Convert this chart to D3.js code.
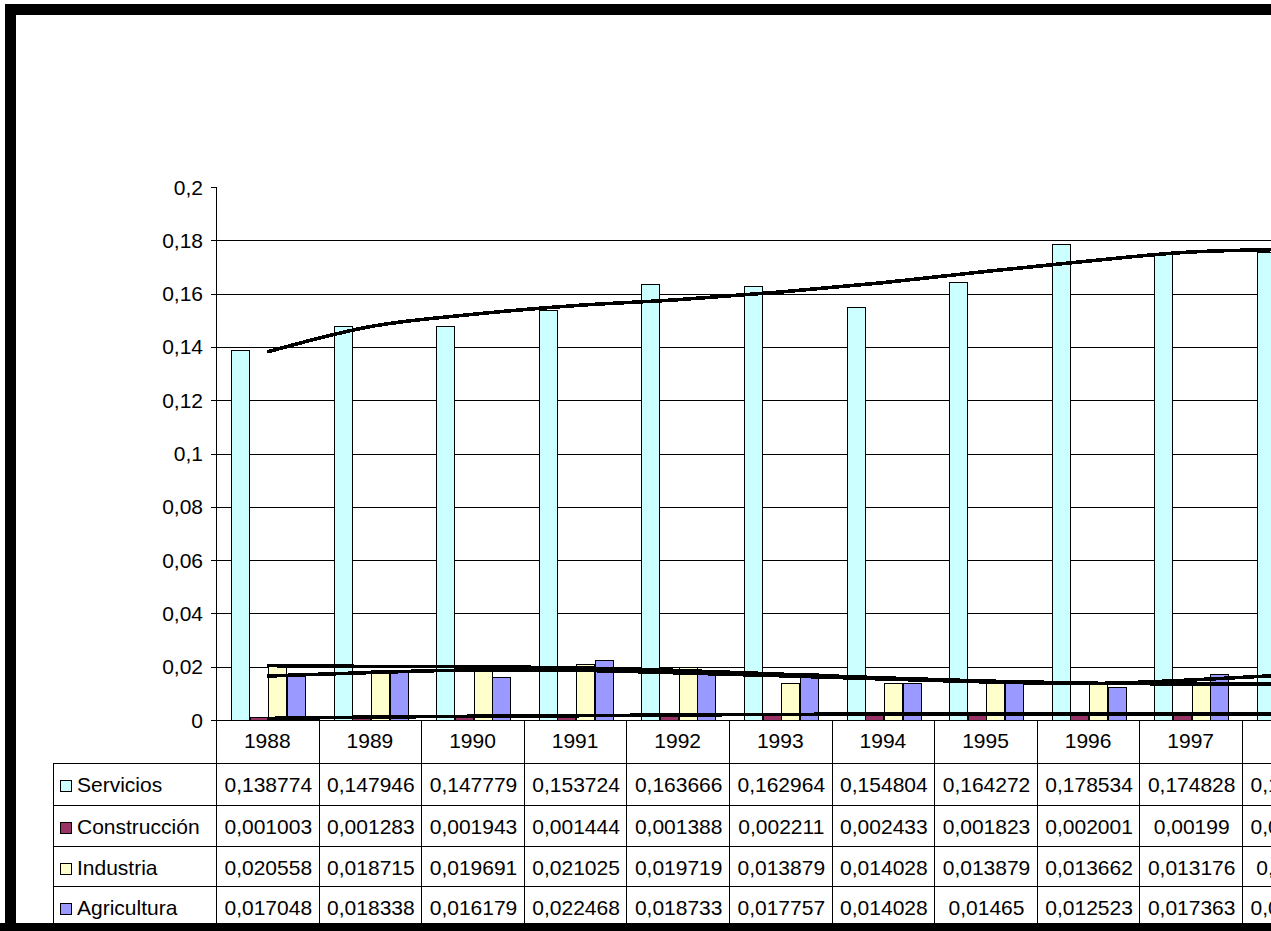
<!DOCTYPE html>
<html>
<head>
<meta charset="utf-8">
<script src="https://cdn.jsdelivr.net/npm/d3@7"></script>
<style>
  html, body { margin: 0; padding: 0; background: #fff; overflow: hidden; }
  svg { display: block; }
  text { font-family: "Liberation Sans", Arial, sans-serif; fill: #000; }
</style>
</head>
<body>
<svg id="chart" width="1271" height="931"></svg>
<script>
// ---- data ----
const years = ["1988","1989","1990","1991","1992","1993","1994","1995","1996","1997","1998"];
const seriesNames = ["Servicios","Construcción","Industria","Agricultura"];
const servicios    = [0.138774,0.147946,0.147779,0.153724,0.163666,0.162964,0.154804,0.164272,0.178534,0.174828,0.175631];
const construccion = [0.001003,0.001283,0.001943,0.001444,0.001388,0.002211,0.002433,0.001823,0.002001,0.00199,0.002203];
const industria    = [0.020558,0.018715,0.019691,0.021025,0.019719,0.013879,0.014028,0.013879,0.013662,0.013176,0.01289];
const agricultura  = [0.017048,0.018338,0.016179,0.022468,0.018733,0.017757,0.014028,0.01465,0.012523,0.017363,0.016542];
// trend lines (value at each category centre)
const trendServicios    = [0.1381,0.1476,0.1522,0.1555,0.1577,0.1606,0.1641,0.1683,0.1722,0.1756,0.1766];
const trendConstruccion = [0.0006,0.0011,0.0014,0.0016,0.0019,0.0021,0.0022,0.0023,0.0023,0.0023,0.0023];
const trendIndustria    = [0.0204,0.0201,0.0200,0.0196,0.0186,0.0172,0.0158,0.0146,0.0138,0.0135,0.0136];
const trendAgricultura  = [0.0165,0.0178,0.0187,0.0186,0.0177,0.0166,0.0154,0.0143,0.0137,0.0150,0.0170];
const yTicks = [0,0.02,0.04,0.06,0.08,0.1,0.12,0.14,0.16,0.18,0.2];
const colors = ["#CCFFFF","#993366","#FFFFCC","#9999FF"];

const seriesValues = [servicios, construccion, industria, agricultura];
const trends = [trendServicios, trendConstruccion, trendIndustria, trendAgricultura];

// ---- layout ----
const svg = d3.select("#chart");
const plotLeft = 216, colW = 102.6;
const y = d3.scaleLinear().domain([0, 0.2]).range([720, 187]);
const x0 = d3.scaleBand().domain(years).range([plotLeft, plotLeft + colW * years.length]).padding(0);
const x1 = d3.scaleBand().domain(seriesNames).range([0, x0.bandwidth()]).paddingInner(0).paddingOuter(0.75);
const fmt = v => String(v).replace(".", ",");

// gridlines (no line at the top value)
svg.append("g").selectAll("line")
  .data(yTicks.filter(t => t > 0 && t < 0.2))
  .join("line")
  .attr("x1", plotLeft).attr("x2", 1271)
  .attr("y1", d => Math.round(y(d)) + 0.5).attr("y2", d => Math.round(y(d)) + 0.5)
  .attr("stroke", "#000").attr("stroke-width", 1);

// bars
const gBars = svg.append("g");
years.forEach((yr, i) => {
  seriesNames.forEach((s, j) => {
    const v = seriesValues[j][i];
    const x = x0(yr) + x1(s) + 1;
    gBars.append("rect")
      .attr("x", Math.round(x) + 0.5)
      .attr("y", Math.round(y(v)) + 0.5)
      .attr("width", Math.round(x1.bandwidth()) - 1)
      .attr("height", Math.max(0, Math.round(y(0)) - Math.round(y(v))))
      .attr("fill", colors[j])
      .attr("stroke", "#000").attr("stroke-width", 1);
  });
});

// trend lines
const line = d3.line()
  .x((d, i) => x0(years[i]) + x0.bandwidth() / 2)
  .y(d => y(d))
  .curve(d3.curveMonotoneX);
svg.append("g").selectAll("path")
  .data(trends)
  .join("path")
  .attr("d", d => line(d))
  .attr("fill", "none")
  .attr("stroke", "#000")
  .attr("stroke-width", 3.6)
  .attr("shape-rendering", "crispEdges");

// value axis
const gy = svg.append("g");
gy.append("line").attr("x1", plotLeft + 0.5).attr("x2", plotLeft + 0.5)
  .attr("y1", y(0.2)).attr("y2", 923).attr("stroke", "#000");
gy.selectAll("line.tick").data(yTicks).join("line").attr("class", "tick")
  .attr("x1", plotLeft - 5).attr("x2", plotLeft)
  .attr("y1", d => Math.round(y(d)) + 0.5).attr("y2", d => Math.round(y(d)) + 0.5)
  .attr("stroke", "#000");
gy.selectAll("text").data(yTicks).join("text")
  .attr("x", plotLeft - 13).attr("y", d => y(d) + 7.5)
  .attr("text-anchor", "end").attr("font-size", 21)
  .text(d => fmt(d));

// category axis line
svg.append("line").attr("x1", plotLeft).attr("x2", 1271)
  .attr("y1", 720.5).attr("y2", 720.5).attr("stroke", "#000");

// data table
const rowTops = [763, 805, 846, 886];
const tableBottom = 926;
const legendLeft = 53;
const gT = svg.append("g");
// vertical column lines
years.forEach((yr, i) => {
  const xx = Math.round(x0(yr) + x0.bandwidth()) + 0.5;
  gT.append("line").attr("x1", xx).attr("x2", xx).attr("y1", 720).attr("y2", tableBottom).attr("stroke", "#000");
});
gT.append("line").attr("x1", legendLeft + 0.5).attr("x2", legendLeft + 0.5)
  .attr("y1", rowTops[0]).attr("y2", tableBottom).attr("stroke", "#000");
rowTops.forEach(t => {
  gT.append("line").attr("x1", legendLeft).attr("x2", 1271)
    .attr("y1", t + 0.5).attr("y2", t + 0.5).attr("stroke", "#000");
});
// year labels
gT.selectAll("text.yr").data(years).join("text").attr("class", "yr")
  .attr("x", d => x0(d) + x0.bandwidth() / 2).attr("y", 748)
  .attr("text-anchor", "middle").attr("font-size", 21)
  .text(d => d);
// legend keys and names
seriesNames.forEach((s, j) => {
  gT.append("rect").attr("x", 60.5).attr("y", rowTops[j] + 17.5)
    .attr("width", 11).attr("height", 11)
    .attr("fill", colors[j]).attr("stroke", "#000");
  gT.append("text").attr("x", 77).attr("y", rowTops[j] + 29)
    .attr("font-size", 21).text(s);
  years.forEach((yr, i) => {
    gT.append("text")
      .attr("x", x0(yr) + x0.bandwidth() / 2 + 1)
      .attr("y", rowTops[j] + 29)
      .attr("text-anchor", "middle").attr("font-size", 21)
      .text(fmt(seriesValues[j][i]));
  });
});

// black frame
svg.append("rect").attr("x", 5).attr("y", 4).attr("width", 1266).attr("height", 11).attr("fill", "#000");
svg.append("rect").attr("x", 5).attr("y", 4).attr("width", 11).attr("height", 927).attr("fill", "#000");
svg.append("rect").attr("x", 0).attr("y", 923).attr("width", 1271).attr("height", 8).attr("fill", "#000");
</script>
</body>
</html>
